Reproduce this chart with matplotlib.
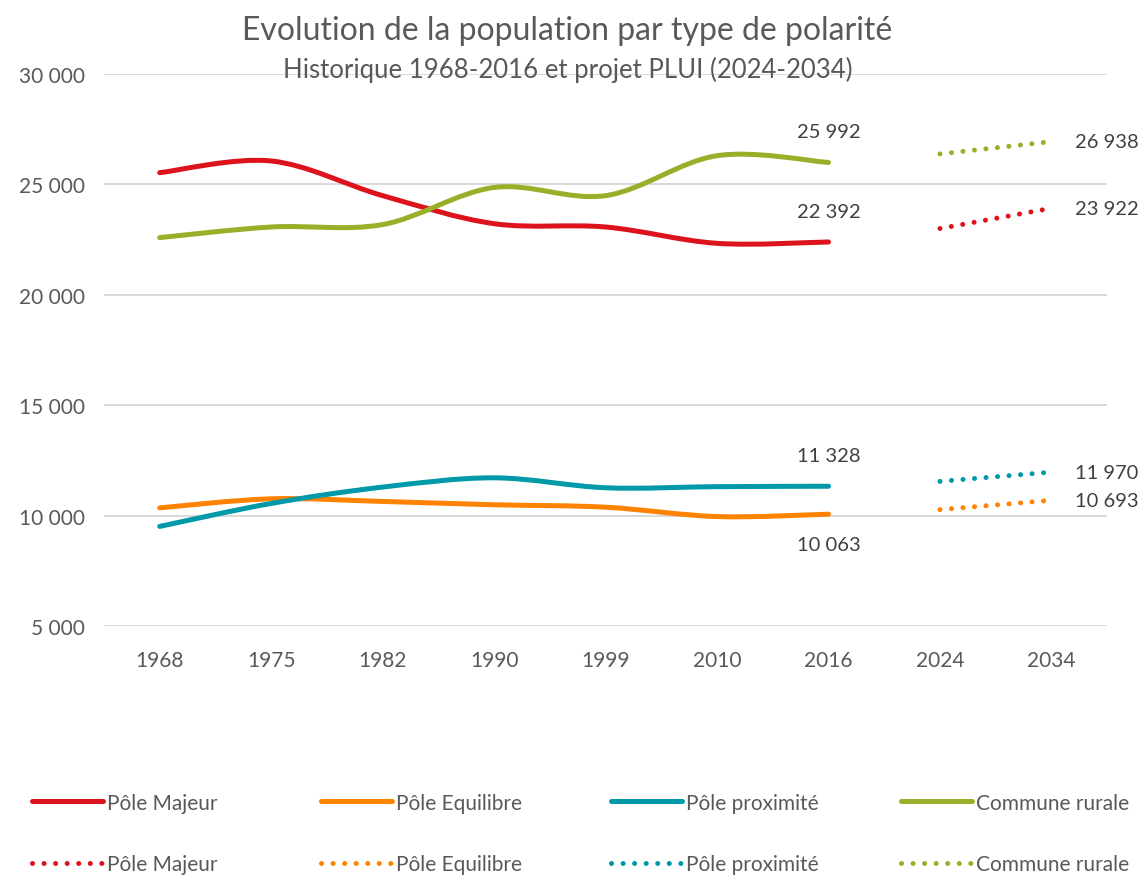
import matplotlib.pyplot as plt
from matplotlib.path import Path
from matplotlib.patches import PathPatch
from matplotlib.lines import Line2D

plt.rcParams['font.family'] = ['Lato', 'DejaVu Sans']

# categories (axe x)
annees = ['1968', '1975', '1982', '1990', '1999', '2010', '2016', '2024', '2034']
n_hist = 7  # 1968 -> 2016 historique, puis projet PLUI

# historique
pole_majeur = [25530, 26060, 24490, 23220, 23070, 22330, 22392]
pole_equilibre = [10350, 10760, 10640, 10490, 10380, 9955, 10063]
pole_proximite = [9510, 10550, 11290, 11710, 11260, 11310, 11328]
commune_rurale = [22590, 23070, 23180, 24860, 24490, 26300, 25992]

# projet PLUI 2024-2034
proj_majeur = [23000, 23922]
proj_equilibre = [10270, 10693]
proj_proximite = [11550, 11970]
proj_rurale = [26380, 26938]

noms = ['Pôle Majeur', 'Pôle Equilibre', 'Pôle proximité', 'Commune rurale']
couleurs = ['#DC121C', '#FF8200', '#0099A8', '#9AAE2A']

# position des etiquettes (au-dessus / en-dessous du dernier point historique)
decal_hist = [22, -22, 22, 22]

GRIS = '#595959'
LW = 3.6
POINTILLE = (0, (0.01, 2.3))


def courbe(x, y):
    # courbe lissee type Excel (Bezier de Catmull-Rom)
    pts = list(zip(x, y))
    verts = [pts[0]]
    codes = [Path.MOVETO]
    for i in range(len(pts) - 1):
        p0 = pts[max(i - 1, 0)]
        p1 = pts[i]
        p2 = pts[i + 1]
        p3 = pts[min(i + 2, len(pts) - 1)]
        c1 = (p1[0] + (p2[0] - p0[0]) / 6, p1[1] + (p2[1] - p0[1]) / 6)
        c2 = (p2[0] - (p3[0] - p1[0]) / 6, p2[1] - (p3[1] - p1[1]) / 6)
        verts += [c1, c2, p2]
        codes += [Path.CURVE4] * 3
    return Path(verts, codes)


def fmt(v):
    return '{:,}'.format(int(v)).replace(',', ' ')


fig = plt.figure(figsize=(11.4, 8.78), dpi=100)
ax = fig.add_axes([0.0912, 0.2859, 0.880, 0.6287])

historique = [pole_majeur, pole_equilibre, pole_proximite, commune_rurale]
projet = [proj_majeur, proj_equilibre, proj_proximite, proj_rurale]
x_hist = list(range(n_hist))
x_proj = list(range(n_hist, len(annees)))

for serie, proj, coul, dy in zip(historique, projet, couleurs, decal_hist):
    patch = PathPatch(courbe(x_hist, serie), fill=False, edgecolor=coul,
                      lw=LW, capstyle='round', joinstyle='round', zorder=3)
    ax.add_patch(patch)
    ax.plot(x_proj, proj, color=coul, lw=LW, linestyle=POINTILLE,
            dash_capstyle='round', zorder=3)
    ax.annotate(fmt(serie[-1]), (x_hist[-1], serie[-1]), xytext=(0, dy),
                textcoords='offset points', ha='center', va='center',
                fontsize=14.5, color='#404040')
    ax.annotate(fmt(proj[-1]), (x_proj[-1], proj[-1]), xytext=(17, 0),
                textcoords='offset points', ha='left', va='center',
                fontsize=14.5, color='#404040')

ax.set_xlim(-0.5, len(annees) - 0.5)
ax.set_ylim(5000, 30000)
ax.set_xticks(range(len(annees)))
ax.set_xticklabels(annees)
ax.set_yticks(range(5000, 30001, 5000))
ax.set_yticklabels([fmt(v) for v in range(5000, 30001, 5000)])
ax.tick_params(length=0, labelsize=15, labelcolor=GRIS)
ax.tick_params(axis='x', pad=17)
ax.tick_params(axis='y', pad=14)
ax.yaxis.grid(True, color='#D9D9D9', lw=1.4)
ax.set_axisbelow(True)
for s in ax.spines.values():
    s.set_visible(False)

fig.text(0.4978, 1 - 31 / 878, 'Evolution de la population par type de polarité',
         ha='center', va='center', fontsize=23, color=GRIS)
fig.text(0.4982, 1 - 70 / 878, 'Historique 1968-2016 et projet PLUI (2024-2034)',
         ha='center', va='center', fontsize=18.5, color=GRIS)

# legende : 4 colonnes, trait plein puis pointille
x_col = [32, 321, 611, 901]
for nom, coul, xc in zip(noms, couleurs, x_col):
    h = [Line2D([], [], color=coul, lw=LW, solid_capstyle='round'),
         Line2D([], [], color=coul, lw=LW, linestyle=POINTILLE,
                dash_capstyle='round')]
    fig.legend(h, [nom, nom], loc='center left',
               bbox_to_anchor=(xc / 1140, 1 - 834.5 / 878),
               frameon=False, borderpad=0, borderaxespad=0,
               handlelength=3.4, handletextpad=0.2, labelspacing=2.0,
               fontsize=15, labelcolor=GRIS)

fig.savefig('out.png', dpi=100)
